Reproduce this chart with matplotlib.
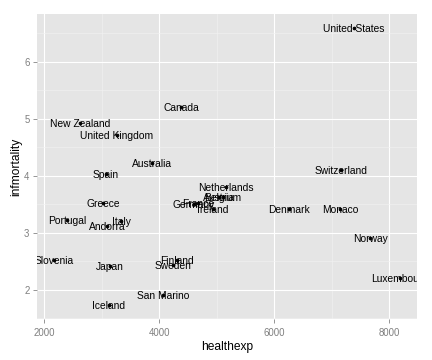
import matplotlib
matplotlib.use("Agg")
import matplotlib.pyplot as plt
from matplotlib.ticker import MultipleLocator

# data
countries = ["United States", "Canada", "New Zealand", "United Kingdom", "Australia",
             "Spain", "Greece", "Portugal", "Italy", "Andorra", "Slovenia", "Japan",
             "Finland", "Sweden", "San Marino", "Iceland", "Switzerland", "Netherlands",
             "Austria", "Belgium", "Germany", "France", "Ireland", "Denmark", "Monaco",
             "Norway", "Luxembourg"]
healthexp = [7386, 4377, 2621, 3264, 3875,
             3073, 3021, 2395, 3336, 3090, 2169, 3143,
             4308, 4238, 4064, 3125, 7160, 5160,
             5040, 5110, 4600, 4680, 4935, 6256, 7143,
             7664, 8186]
infmortality = [6.6, 5.21, 4.93, 4.72, 4.23,
                4.04, 3.53, 3.23, 3.21, 3.12, 2.53, 2.42,
                2.53, 2.44, 1.91, 1.74, 4.11, 3.81,
                3.63, 3.63, 3.51, 3.53, 3.42, 3.42, 3.42,
                2.91, 2.21]

plt.rcParams['font.family'] = ['Liberation Sans', 'DejaVu Sans']

fig = plt.figure(figsize=(6, 5), dpi=72)
ax = fig.add_axes([0.0856, 0.1139, 0.879, 0.8472])

ax.set_facecolor("#E5E5E5")
for s in ax.spines.values():
    s.set_visible(False)

ax.set_xlim(1873, 8476)
ax.set_ylim(1.49, 6.84)
ax.xaxis.set_major_locator(MultipleLocator(2000))
ax.xaxis.set_minor_locator(MultipleLocator(1000))
ax.yaxis.set_major_locator(MultipleLocator(1))
ax.yaxis.set_minor_locator(MultipleLocator(0.5))
ax.grid(which="minor", color="#F2F2F2", linewidth=0.6)
ax.grid(which="major", color="white", linewidth=1.1)
ax.set_axisbelow(True)
ax.tick_params(which="major", length=4, color="#7F7F7F", labelcolor="#7F7F7F",
               labelsize=9.6, width=0.8)
ax.tick_params(axis="x", which="major", pad=5)
ax.tick_params(which="minor", length=0)

ax.scatter(healthexp, infmortality, s=7, color="black", zorder=3)
for name, x, y in zip(countries, healthexp, infmortality):
    ax.text(x, y, name, fontsize=10.3, ha="center", va="center_baseline",
            color="black", clip_on=True, zorder=4)

ax.set_xlabel("healthexp", fontsize=12, labelpad=3)
ax.set_ylabel("infmortality", fontsize=12, labelpad=2)

fig.savefig("out.png", dpi=72)
